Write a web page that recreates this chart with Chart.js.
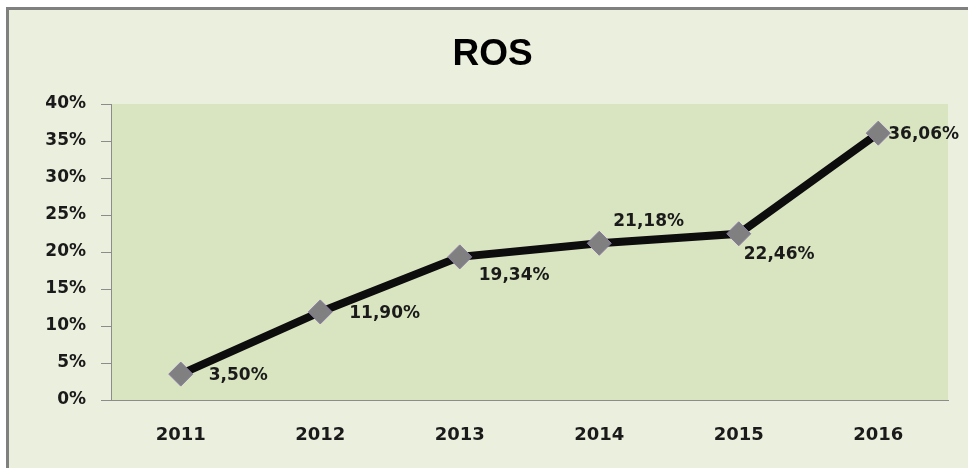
<!DOCTYPE html>
<html>
<head>
<meta charset="utf-8">
<script src="https://cdn.jsdelivr.net/npm/chart.js@4"></script>
<style>
  html, body { margin: 0; padding: 0; background: #ffffff; }
  #wrap {
    position: absolute; left: 6px; top: 7px;
    width: 962px; height: 461px;
    background: #ebefdd;
    border-left: 3px solid #808080;
    border-top: 3px solid #808080;
  }
  canvas { display: block; }
</style>
</head>
<body>
<div id="wrap"><canvas id="c" width="959" height="458"></canvas></div>
<script>
const categories = ['2011', '2012', '2013', '2014', '2015', '2016'];
const rosValues = [3.50, 11.90, 19.34, 21.18, 22.46, 36.06];
const yTickValues = [0, 5, 10, 15, 20, 25, 30, 35, 40];
const titleText = 'ROS';
const labelOffsets = [[28, 1], [29, 2], [19, 19], [14, -22], [5, 21], [10, 1]];

const fmt = v => v.toFixed(2).replace('.', ',') + '%';

const plotBg = {
  id: 'plotBg',
  beforeDraw(chart) {
    const a = chart.chartArea, ctx = chart.ctx;
    ctx.save();
    ctx.fillStyle = '#d9e5c1';
    ctx.fillRect(a.left, a.top, a.right - a.left, a.bottom - a.top);
    ctx.font = 'bold 37px "Liberation Sans", Arial, sans-serif';
    ctx.fillStyle = '#000000';
    ctx.textAlign = 'center';
    ctx.textBaseline = 'middle';
    ctx.fillText(titleText, chart.width / 2 + 4, 45);
    ctx.restore();
  }
};

const dataLabels = {
  id: 'dataLabels',
  afterDatasetsDraw(chart) {
    const ctx = chart.ctx;
    const meta = chart.getDatasetMeta(0);
    ctx.save();
    ctx.font = 'bold 17px "DejaVu Sans"';
    ctx.fillStyle = '#1a1a1a';
    ctx.textAlign = 'left';
    ctx.textBaseline = 'middle';
    meta.data.forEach((pt, i) => {
      const off = labelOffsets[i];
      ctx.fillText(fmt(rosValues[i]), pt.x + off[0], pt.y + off[1]);
    });
    ctx.restore();
  }
};

new Chart(document.getElementById('c'), {
  type: 'line',
  data: {
    labels: categories,
    datasets: [{
      data: rosValues,
      borderColor: '#0d0d0d',
      borderWidth: 8,
      tension: 0,
      pointStyle: 'rectRot',
      pointRadius: 12,
      pointHoverRadius: 12,
      pointBackgroundColor: '#808080',
      pointBorderColor: '#8a7aa6',
      pointBorderWidth: 1
    }]
  },
  options: {
    responsive: false,
    animation: false,
    devicePixelRatio: 1,
    layout: { padding: { left: 0, right: 20, top: 94, bottom: 0 } },
    plugins: {
      legend: { display: false },
      tooltip: { enabled: false },
      title: { display: false }
    },
    scales: {
      x: {
        offset: true,
        grid: { display: false, drawTicks: false },
        border: { display: true, color: '#8c8c8c', width: 1 },
        ticks: {
          color: '#1a1a1a',
          font: { family: '"DejaVu Sans"', size: 18, weight: 'bold' },
          padding: 25
        },
        afterFit(s) { s.height = 68; }
      },
      y: {
        min: 0, max: 40,
        afterBuildTicks(s) { s.ticks = yTickValues.map(v => ({ value: v })); },
        grid: { drawOnChartArea: false, drawTicks: true, tickLength: 10, tickColor: '#8c8c8c' },
        border: { display: true, color: '#8c8c8c', width: 1 },
        ticks: {
          color: '#1a1a1a',
          font: { family: '"DejaVu Sans"', size: 17, weight: 'bold' },
          padding: 15,
          callback: v => v + '%'
        },
        afterFit(s) { s.width = 102; }
      }
    }
  },
  plugins: [plotBg, dataLabels]
});
</script>
</body>
</html>
